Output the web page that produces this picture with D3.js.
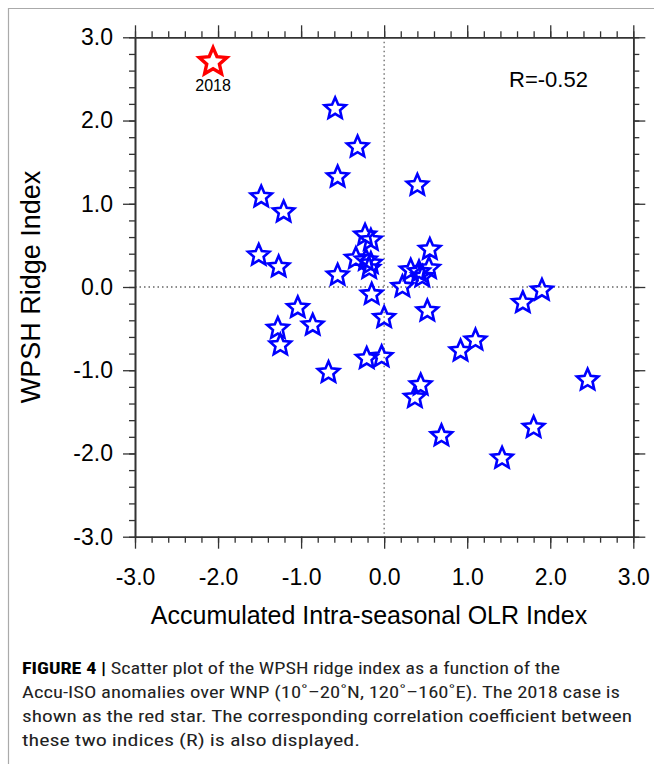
<!DOCTYPE html>
<html>
<head>
<meta charset="utf-8">
<script src="https://cdn.jsdelivr.net/npm/d3@7"></script>
<style>
	body { margin: 0; background: #fff; }
	svg { display: block; }
</style>
</head>
<body>
<svg width="654" height="764"></svg>
<script>
// accumulated intra-seasonal OLR index (x) and WPSH ridge index (y), one per year
const accuIso = [
	-0.59, -0.32, -0.56, 0.40, -1.48, -1.21, -0.23, -0.16, -1.51, -1.27,
	-0.56, -0.34, -0.22, -0.16, -0.18, 0.55, 0.32, 0.42, 0.54, 0.46,
	0.22, -0.15, 1.90, 1.67, 0.00, 0.52, -1.04, -0.86, -1.28, -1.25,
	-0.67, -0.21, -0.03, 0.44, 0.37, 0.92, 1.10, 2.45, 0.69, 1.80,
	1.42,
];
const wpshRidge = [
	2.16, 1.70, 1.34, 1.24, 1.10, 0.92, 0.64, 0.58, 0.40, 0.26,
	0.16, 0.36, 0.34, 0.30, 0.24, 0.47, 0.22, 0.20, 0.24, 0.14,
	0.02, -0.07, -0.02, -0.17, -0.35, -0.27, -0.23, -0.44, -0.48, -0.68,
	-1.01, -0.84, -0.82, -1.16, -1.31, -0.75, -0.62, -1.10, -1.77, -1.67,
	-2.04,
];
const highlightYear = ['2018'];
const highlightX = [-2.06];
const highlightY = [2.72];

const majorTicks = [-3, -2, -1, 0, 1, 2, 3];
const tickLabels = ['-3.0', '-2.0', '-1.0', '0.0', '1.0', '2.0', '3.0'];
const minorTicks = d3.range(-3, 3.001, 0.2);
const corrText = 'R=-0.52';
const xTitle = 'Accumulated Intra-seasonal OLR Index';
const yTitle = 'WPSH Ridge Index';
const captionLines = [
	['FIGURE 4 | ', 'Scatter plot of the WPSH ridge index as a function of the'],
	['', 'Accu-ISO anomalies over WNP (10\u02da\u201320\u02daN, 120\u02da\u2013160\u02daE). The 2018 case is'],
	['', 'shown as the red star. The corresponding correlation coefficient between'],
	['', 'these two indices (R) is also displayed.'],
];
const captionWidths = [538, 598, 610, 338];

const font = '"Liberation Sans", Arial, Helvetica, sans-serif';
const axisColor = '#333';
const blue = '#0000ff';
const red = '#ff0000';

const svg = d3.select('svg');

// figure frame (left and top edges only)
svg.append('path')
	.attr('d', 'M8.5,764V8.5H654')
	.attr('fill', 'none')
	.attr('stroke', '#aaa')
	.attr('stroke-width', 1.2);

const plot = { left: 135, right: 633.3, top: 37.3, bottom: 536.7 };

const x = d3.scaleLinear().domain([-3, 3]).range([plot.left, plot.right]);
const y = d3.scaleLinear().domain([-3, 3]).range([plot.bottom, plot.top]);

// zero reference lines
svg.append('line')
	.attr('x1', x(0)).attr('x2', x(0))
	.attr('y1', plot.top).attr('y2', plot.bottom)
	.attr('stroke', '#666').attr('stroke-width', 1.3)
	.attr('stroke-dasharray', '1.5,3');
svg.append('line')
	.attr('x1', plot.left).attr('x2', plot.right)
	.attr('y1', y(0)).attr('y2', y(0))
	.attr('stroke', '#666').attr('stroke-width', 1.3)
	.attr('stroke-dasharray', '1.5,3');

// axes: major ticks outward 12px, minor ticks outward 6px
const addAxis = (axisFn, scale, transform, pad) => {
	const major = svg.append('g')
		.attr('transform', transform)
		.call(axisFn(scale)
			.tickValues(majorTicks)
			.tickSize(12)
			.tickSizeOuter(0)
			.tickPadding(pad || 0)
			.tickFormat((d, i) => pad ? tickLabels[i] : ''));
	const minor = svg.append('g')
		.attr('transform', transform)
		.call(axisFn(scale)
			.tickValues(minorTicks)
			.tickSize(6)
			.tickSizeOuter(0)
			.tickFormat(''));
	[major, minor].forEach((g) => {
		g.select('.domain').attr('stroke', axisColor).attr('stroke-width', 1.6);
		g.selectAll('.tick line').attr('stroke', axisColor).attr('stroke-width', 1.3);
	});
	major.selectAll('.tick text')
		.attr('font-family', font)
		.attr('font-size', 23)
		.attr('fill', '#000');
	return major;
};

addAxis(d3.axisBottom, x, `translate(0,${plot.bottom})`, 20);
addAxis(d3.axisTop, x, `translate(0,${plot.top})`, 0);
addAxis(d3.axisLeft, y, `translate(${plot.left},0)`, 10);
addAxis(d3.axisRight, y, `translate(${plot.right},0)`, 0);

// axis titles
svg.append('text')
	.attr('x', 369)
	.attr('y', 624)
	.attr('text-anchor', 'middle')
	.attr('font-family', font)
	.attr('font-size', 25)
	.text(xTitle);

svg.append('text')
	.attr('transform', `translate(40,${(plot.top + plot.bottom) / 2}) rotate(-90)`)
	.attr('text-anchor', 'middle')
	.attr('font-family', font)
	.attr('font-size', 27)
	.text(yTitle);

// star marker path
const starPath = (R) => {
	const pts = d3.range(10).map((i) => {
		const r = i % 2 === 0 ? R : R * 0.46;
		const a = (i * Math.PI) / 5;
		return [r * Math.sin(a), -r * Math.cos(a)];
	});
	return d3.line()(pts) + 'Z';
};

const points = accuIso.map((v, i) => ({ x: v, y: wpshRidge[i] }));

svg.append('g')
	.selectAll('path')
	.data(points)
	.enter()
		.append('path')
		.attr('d', starPath(11.2))
		.attr('transform', (d) => `translate(${x(d.x)},${y(d.y) + 1.5})`)
		.attr('fill', 'none')
		.attr('stroke', blue)
		.attr('stroke-width', 2.6)
		.attr('stroke-linejoin', 'miter');

const hl = highlightYear.map((yr, i) => ({ year: yr, x: highlightX[i], y: highlightY[i] }));
const hlGroup = svg.append('g')
	.selectAll('g')
	.data(hl)
	.enter()
		.append('g')
		.attr('transform', (d) => `translate(${x(d.x)},${y(d.y)})`);
hlGroup.append('path')
	.attr('d', starPath(14.5))
	.attr('transform', 'translate(0,1.5)')
	.attr('fill', 'none')
	.attr('stroke', red)
	.attr('stroke-width', 3.4);
hlGroup.append('text')
	.attr('y', 30)
	.attr('text-anchor', 'middle')
	.attr('font-family', font)
	.attr('font-size', 16)
	.text((d) => d.year);

// correlation label
svg.append('text')
	.attr('x', 509)
	.attr('y', 87)
	.attr('font-family', font)
	.attr('font-size', 22)
	.text(corrText);

// caption
const captionFont = '"Liberation Sans Narrow", "Roboto Condensed", Roboto, "Liberation Sans", sans-serif';
captionLines.forEach(([bold, rest], i) => {
	const t = svg.append('text')
		.attr('x', 22)
		.attr('y', 674 + i * 24)
		.attr('font-family', captionFont)
		.attr('font-size', 17)
		.attr('fill', '#222')
		.attr('textLength', captionWidths[i])
		.attr('lengthAdjust', 'spacingAndGlyphs');
	if (bold) {
		t.append('tspan').attr('font-weight', 'bold').attr('fill', '#000').text(bold);
	}
	t.append('tspan').text(rest);
});
</script>
</body>
</html>
